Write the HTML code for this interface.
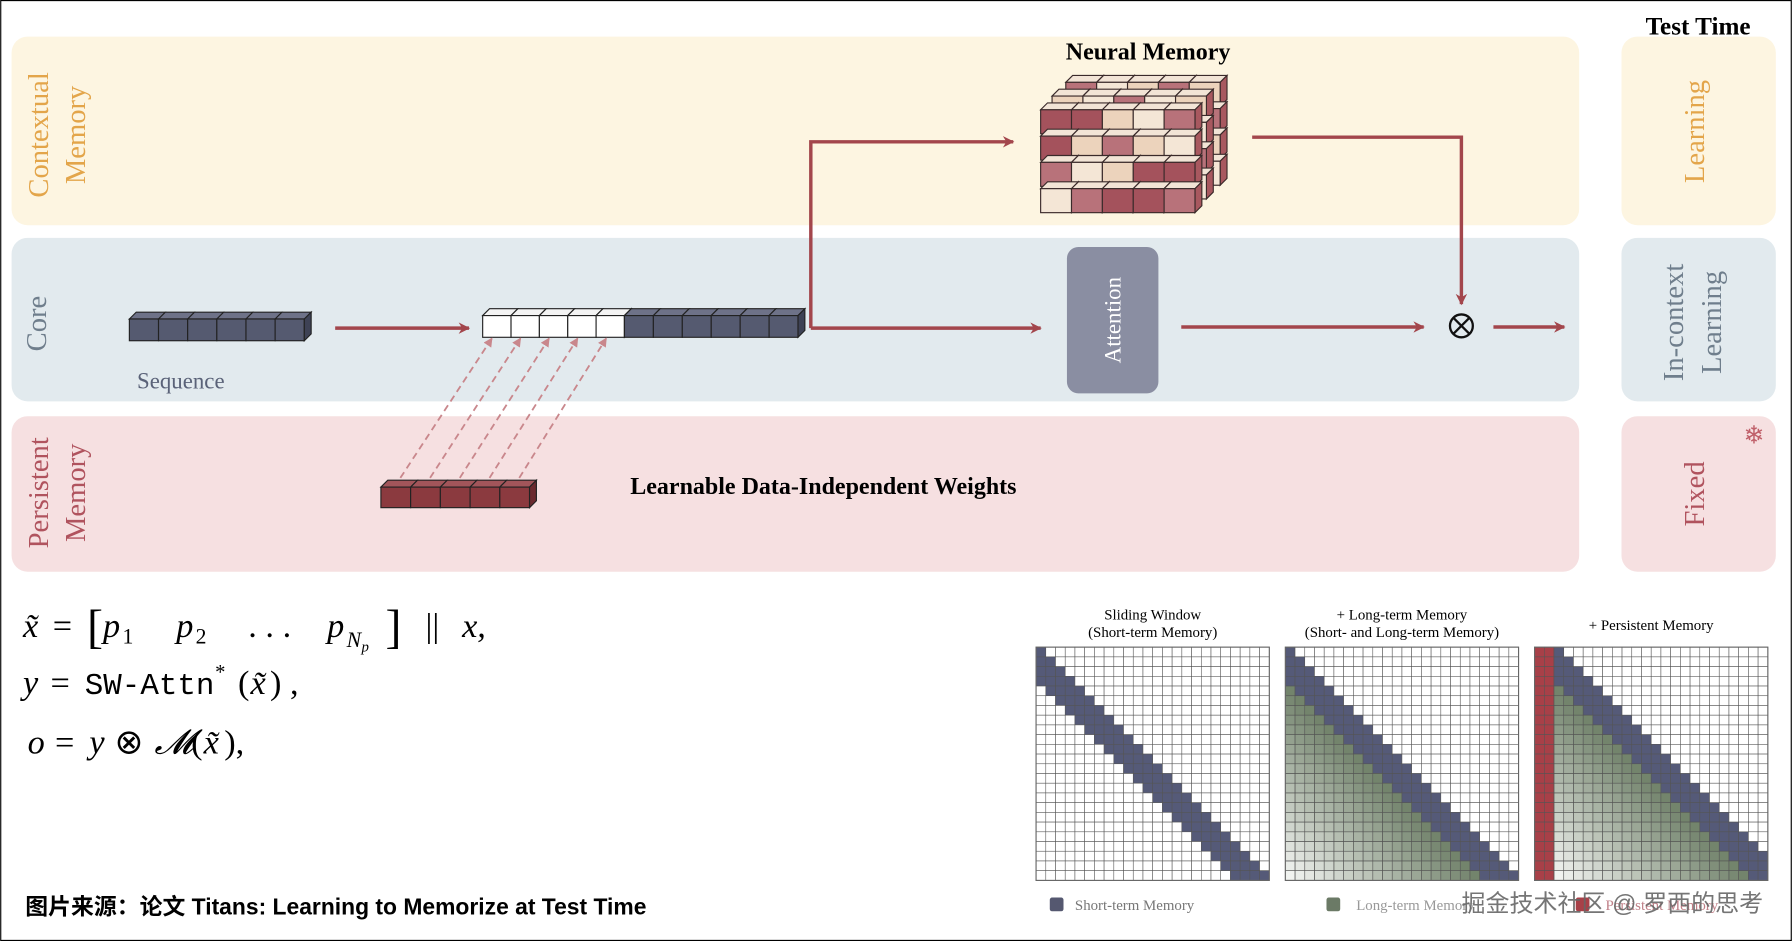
<!DOCTYPE html>
<html><head><meta charset="utf-8"><style>
html,body{margin:0;padding:0;background:#fff;}
svg{display:block;}
.s{font-family:"Liberation Serif",serif;}
</style></head><body>
<svg id="sv" width="1792" height="941" viewBox="0 0 1567 823" xmlns="http://www.w3.org/2000/svg">
<defs>
<marker id="ar" markerWidth="10" markerHeight="10" refX="9" refY="5" orient="auto" markerUnits="userSpaceOnUse"><path d="M0,0 L10,5 L0,10 L3,5 z" fill="#a3464c"/></marker>
<marker id="ar2" markerWidth="8" markerHeight="8" refX="7" refY="4" orient="auto" markerUnits="userSpaceOnUse"><path d="M0,0 L8,4 L0,8 z" fill="#c9878c"/></marker>
</defs>
<rect x="0.5" y="0.5" width="1566" height="822" fill="#fff" stroke="#000"/>
<rect x="10" y="32" width="1371" height="165" rx="14" fill="#fdf5e1"/>
<rect x="10" y="208" width="1371" height="143" rx="14" fill="#e2eaee"/>
<rect x="10" y="364" width="1371" height="136" rx="14" fill="#f6e0e1"/>
<rect x="1418" y="32" width="135" height="165" rx="14" fill="#fdf5e1"/>
<rect x="1418" y="208" width="135" height="143" rx="14" fill="#e2eaee"/>
<rect x="1418" y="364" width="135" height="136" rx="14" fill="#f6e0e1"/>
<g class="s" font-size="25" text-anchor="middle">
<text transform="translate(42,118) rotate(-90)" fill="#e3a54a">Contextual</text>
<text transform="translate(74,118) rotate(-90)" fill="#e3a54a">Memory</text>
<text transform="translate(40,283) rotate(-90)" fill="#6f7e8c">Core</text>
<text transform="translate(42,431) rotate(-90)" fill="#b0535e">Persistent</text>
<text transform="translate(74,431) rotate(-90)" fill="#b0535e">Memory</text>
<text transform="translate(1490,115) rotate(-90)" fill="#e3a54a">Learning</text>
<text transform="translate(1472,282) rotate(-90)" fill="#6f7e8c">In-context</text>
<text transform="translate(1505,282) rotate(-90)" fill="#6f7e8c">Learning</text>
<text transform="translate(1490,432) rotate(-90)" fill="#b0535e">Fixed</text>
</g>
<text x="1534" y="388" font-size="22" fill="#c0606a" text-anchor="middle">❄</text>
<text class="s" x="1485" y="30" font-size="22" font-weight="bold" text-anchor="middle">Test Time</text>
<text class="s" x="1004" y="52" font-size="21" font-weight="bold" text-anchor="middle">Neural Memory</text>
<text class="s" x="158" y="340" font-size="20" fill="#5a6278" text-anchor="middle">Sequence</text>
<text class="s" x="720" y="432" font-size="21" font-weight="bold" text-anchor="middle">Learnable Data-Independent Weights</text>
<g id="blocks"></g>
<g stroke="#a3464c" stroke-width="3" fill="none">
<line x1="293" y1="287" x2="410" y2="287" marker-end="url(#ar)"/>
<polyline points="709,287 709,124 886,124" marker-end="url(#ar)"/>
<line x1="709" y1="287" x2="910" y2="287" marker-end="url(#ar)"/>
<line x1="1033" y1="286" x2="1245" y2="286" marker-end="url(#ar)"/>
<polyline points="1095,120 1278,120 1278,266" marker-end="url(#ar)"/>
<line x1="1306" y1="286" x2="1368" y2="286" marker-end="url(#ar)"/>
</g>
<circle cx="1278" cy="285" r="10" fill="none" stroke="#111" stroke-width="2"/>
<line x1="1271" y1="278" x2="1285" y2="292" stroke="#111" stroke-width="2"/>
<line x1="1285" y1="278" x2="1271" y2="292" stroke="#111" stroke-width="2"/>
<rect x="933" y="216" width="80" height="128" rx="10" fill="#8a8ea2"/>
<text class="s" transform="translate(980,280) rotate(-90)" font-size="20" fill="#fff" text-anchor="middle">Attention</text>
<g id="cube"></g>
<g class="s" font-size="30">
<text x="20" y="557" font-style="italic">x̃</text><text x="46" y="557">=</text>
<text x="76" y="562" font-size="42" transform="scale(1,1)">[</text>
<text x="90" y="557" font-style="italic">p</text><text x="107" y="563" font-size="19">1</text>
<text x="154" y="557" font-style="italic">p</text><text x="171" y="563" font-size="19">2</text>
<text x="217" y="557">. . .</text>
<text x="286" y="557" font-style="italic">p</text><text x="303" y="566" font-size="19" font-style="italic">N</text><text x="316" y="570" font-size="13" font-style="italic">p</text>
<text x="337" y="562" font-size="42">]</text>
<text x="372" y="557">||</text><text x="404" y="557" font-style="italic">x,</text>
<text x="20" y="607" font-style="italic">y</text><text x="44" y="607">=</text>
<text x="74" y="607" font-family="Liberation Mono" font-size="27">SW-Attn</text>
<text x="188" y="594" font-size="18">*</text>
<text x="208" y="607">(</text><text x="219" y="607" font-style="italic">x̃</text><text x="236" y="607">) ,</text>
<text x="24" y="659" font-style="italic">o</text><text x="48" y="659">=</text><text x="78" y="659" font-style="italic">y</text>
<text x="100" y="659">⊗</text><text x="135" y="659" font-style="italic">𝓜</text><text x="167" y="659">(</text><text x="178" y="659" font-style="italic">x̃</text><text x="196" y="659">),</text>
</g>
<g class="s" font-size="13" text-anchor="middle">
<text x="1008" y="542">Sliding Window</text><text x="1008" y="557">(Short-term Memory)</text>
<text x="1226" y="542">+ Long-term Memory</text><text x="1226" y="557">(Short- and Long-term Memory)</text>
<text x="1444" y="551">+ Persistent Memory</text>
</g>
<g id="grids"></g>
<rect x="918" y="785" width="12" height="12" rx="2" fill="#555870"/>
<text class="s" x="940" y="796" font-size="13" fill="#777">Short-term Memory</text>
<rect x="1160" y="785" width="12" height="12" rx="2" fill="#6b7a66"/>
<text class="s" x="1186" y="796" font-size="13" fill="#999">Long-term Memory</text>
<rect x="1378" y="785" width="12" height="12" rx="2" fill="#a84048"/>
<text class="s" x="1404" y="796" font-size="13" fill="#c08088">Persistent Memory</text>
<text x="1410" y="797" font-size="21" fill="#666" fill-opacity="0.9" text-anchor="middle" font-family="'Liberation Sans','Noto Sans CJK SC',sans-serif">掘金技术社区 @ 罗西的思考</text>
<text x="22" y="800" font-size="20" font-weight="bold" font-family="'Liberation Sans','Noto Sans CJK SC',sans-serif">图片来源：论文 Titans: Learning to Memorize at Test Time</text>
</svg>
<script>
var NS="http://www.w3.org/2000/svg";
function R(p,x,y,w,h,f,s,extra){var r=document.createElementNS(NS,"rect");r.setAttribute("x",x);r.setAttribute("y",y);r.setAttribute("width",w);r.setAttribute("height",h);r.setAttribute("fill",f);if(s){r.setAttribute("stroke",s);r.setAttribute("stroke-width",extra||1);}p.appendChild(r);return r;}
function P(p,d,f,s){var e=document.createElementNS(NS,"path");e.setAttribute("d",d);e.setAttribute("fill",f);if(s){e.setAttribute("stroke",s);e.setAttribute("stroke-width",1);}p.appendChild(e);}
function L(p,x1,y1,x2,y2,c,dash){var e=document.createElementNS(NS,"line");e.setAttribute("x1",x1);e.setAttribute("y1",y1);e.setAttribute("x2",x2);e.setAttribute("y2",y2);e.setAttribute("stroke",c);e.setAttribute("stroke-width",1.6);if(dash)e.setAttribute("stroke-dasharray",dash);e.setAttribute("marker-end","url(#ar2)");p.appendChild(e);}
var B=document.getElementById("blocks");
function row(x,y,n,w,h,f,top,side){for(var i=0;i<n;i++){var X=x+i*w;P(B,"M"+X+","+y+" l6,-6 h"+w+" l-6,6z",top,"#222");R(B,X,y,w,h,f,"#222");}P(B,"M"+(x+n*w)+","+y+" l6,-6 v"+h+" l-6,6z",side,"#222");}
row(113,279,6,25.5,19,"#555a70","#6e7288","#3e4255");
row(422,276,5,24.8,19,"#ffffff","#f4f4f4","#eee");
row(546,276,6,25.3,19,"#555a70","#6e7288","#3e4255");
row(333,426,5,26,18,"#8b3a3f","#a2555a","#6b2a2f");
for(var i=0;i<5;i++){L(B,350+i*26,418,430+i*25,296,"#c9878c","6,4");}
var C=document.getElementById("cube");
var layers=[[932,72],[920,84],[910,96]];
for(var l=0;l<3;l++){var ox=layers[l][0],oy=layers[l][1];for(var r=0;r<4;r++)for(var c=0;c<5;c++){var x=ox+c*27,y=oy+r*23;var f=((r*5+c+l)%3==0)?"#b8727a":((r+c)%2?"#f4e6d6":"#ecd3bc");if(l==2&&((r==0&&c<2)||(r==1&&c<1)||(r==2&&c>2)||(r==3&&(c==2||c==3))))f="#a4525c";P(C,"M"+x+","+y+" l6,-6 h27 l-6,6z","#f2e4d6","#3a2a2a");P(C,"M"+(x+27)+","+y+" l6,-6 v21 l-6,6z","#a8585f","#3a2a2a");R(C,x,y,27,21,f,"#3a2a2a");}}
var G=document.getElementById("grids");var n=24,cs=204/24;
[906,1124,1342].forEach(function(gx,k){var gy=566;for(var i=0;i<n;i++)for(var j=0;j<n;j++){var f="#fff",op=1;var off=(k==2)?2:0;var d=i-(j-off);
if(k==2&&j<2)f="#a84048";else if(d>=0&&d<4)f="#555a78";else if(k>0&&d>=4&&j>=off){f="#6b7d64";op=Math.max(0.06,0.95-(d-4)*0.045-(j-off<3?0:0));}
var r=R(G,gx+j*cs,gy+i*cs,cs,cs,f,"#555",0.5);if(op<1){r.setAttribute("fill-opacity",op);}}
R(G,gx,gy,204,204,"none","#666",1);});
</script>
</body></html>
